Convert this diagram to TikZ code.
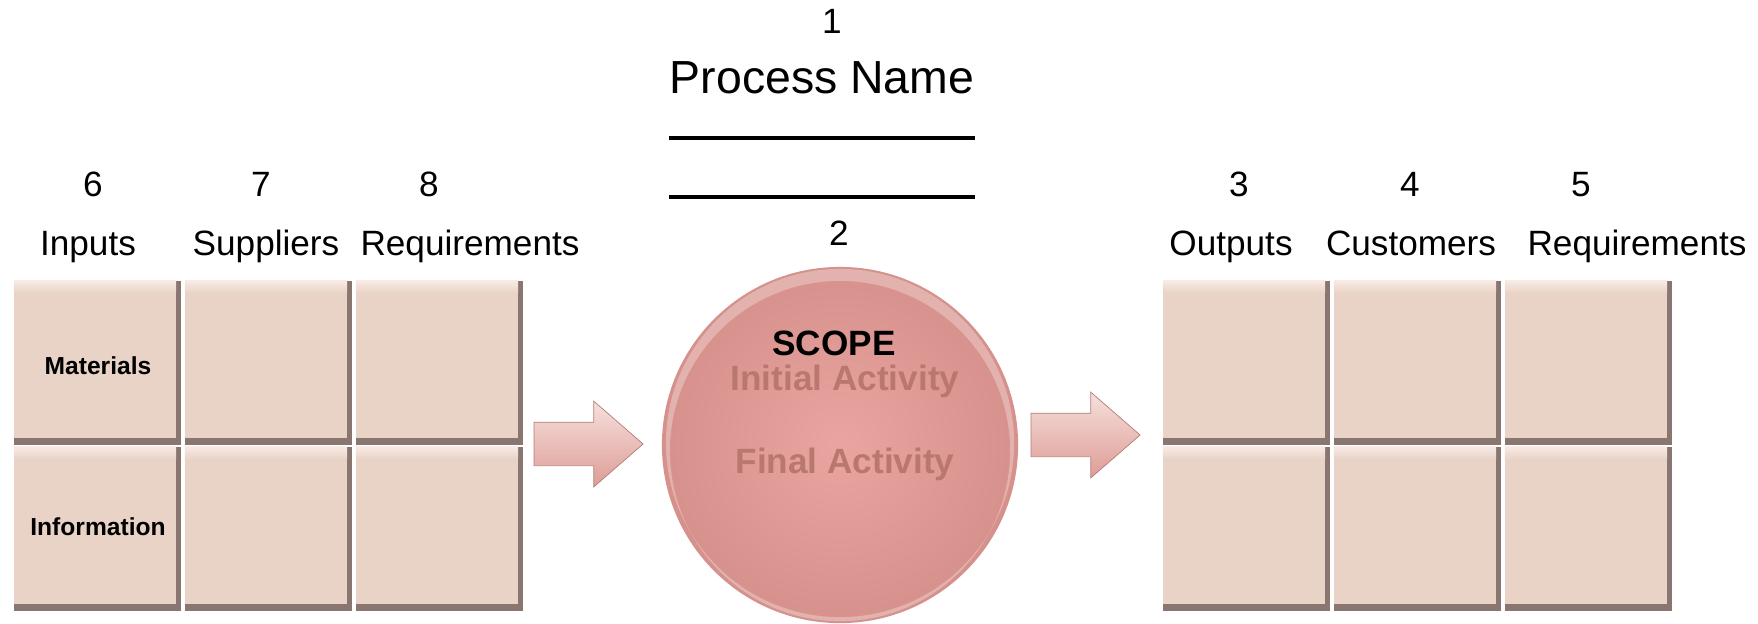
\documentclass[tikz,border=0pt]{standalone}
\usepackage{fontspec}
\setmainfont{Liberation Sans}
\usetikzlibrary{shapes.arrows}

\definecolor{cellfill}{HTML}{E9D3C7}
\definecolor{cellhigh}{HTML}{F7EAE4}
\definecolor{cellshade}{HTML}{8A7670}
\definecolor{scopein}{HTML}{EAA5A0}
\definecolor{scopeout}{HTML}{D6918C}
\definecolor{activity}{HTML}{B9786F}
\definecolor{arrowlight}{HTML}{F6E0DC}
\definecolor{arrowdark}{HTML}{DE9C96}

\tikzset{
    cell/.style={rectangle, inner sep=0, minimum width=1.67cm, minimum height=1.64cm,
        fill=cellshade,
        path picture={
            \fill[cellfill] (path picture bounding box.north west)
                rectangle ([xshift=-0.05cm,yshift=0.07cm]path picture bounding box.south east);
            \shade[top color=cellhigh, bottom color=cellfill] (path picture bounding box.north west)
                rectangle ([xshift=-0.05cm,yshift=-0.12cm]path picture bounding box.north east);
        }},
    rowlabel/.style={font=\bfseries\fontsize{7}{8}\selectfont, inner sep=0},
    head/.style={font=\fontsize{10}{12}\selectfont, inner sep=0, anchor=base},
    flow/.style={single arrow, inner xsep=0, inner ysep=0.215cm, minimum height=1.09cm,
        single arrow head extend=0.21cm, single arrow tip angle=82,
        top color=arrowlight, bottom color=arrowdark, draw=arrowdark!80!black, line width=0.2pt},
    activitytext/.style={font=\bfseries\fontsize{10}{12}\selectfont, text=activity, inner sep=0}
}

\begin{document}
\begin{tikzpicture}[x=0.01cm, y=-0.01cm]
    \def \colw {171}      % horizontal pitch of the cells
    \def \rowa {363}      % first row of cells
    \def \rowb {529}      % second row of cells
    \def \leftx {97.5}    % first column of the input grid
    \def \rightx {1246.5} % first column of the output grid
    \def \numy {196}      % baseline of the column numbers
    \def \heady {255}     % baseline of the column titles
    \useasboundingbox (0,0) rectangle (1758,623);
    % process name
    \node[head] (num1) at (832,33) {1};
    \node[font=\fontsize{13.2}{15}\selectfont, inner sep=0] (pname) at (822,78) {Process Name};
    \draw[line width=1.2pt] (669,138) -- (975,138);
    \draw[line width=1.2pt] (669,197) -- (975,197);
    \node[head] (num2) at (839,245) {2};
    % input grid
    \node[cell] (mat) at (\leftx,\rowa) {};
    \node[cell] (matsup) at (\leftx+\colw,\rowa) {};
    \node[cell] (matreq) at (\leftx+2*\colw,\rowa) {};
    \node[cell] (info) at (\leftx,\rowb) {};
    \node[cell] (infosup) at (\leftx+\colw,\rowb) {};
    \node[cell] (inforeq) at (\leftx+2*\colw,\rowb) {};
    \node[rowlabel] (matlabel) at (98,366) {Materials};
    \node[rowlabel] (infolabel) at (98,527) {Information};
    % input titles
    \node[head] (num6) at (93,\numy) {6};
    \node[head] (num7) at (261,\numy) {7};
    \node[head] (num8) at (429,\numy) {8};
    \node[head] (inputs) at (88,\heady) {Inputs};
    \node[head] (suppliers) at (266,\heady) {Suppliers};
    \node[head] (inreq) at (470,\heady) {Requirements};
    % scope
    \node[circle, minimum size=3.56cm, inner sep=0, inner color=scopein, outer color=scopeout,
        path picture={
            \fill[white, opacity=0.3, even odd rule] ([yshift=0.02cm]path picture bounding box.center) circle (1.74cm)
                ([yshift=-0.06cm]path picture bounding box.center) circle (1.70cm);
        }] (scope) at (840,445) {};
    \node[font=\bfseries\fontsize{10}{12}\selectfont, inner sep=0] (scopetitle) at (834,343) {SCOPE};
    \node[activitytext] (initial) at (845,381) {Initial Activity};
    \node[activitytext] (final) at (845,464) {Final Activity};
    % flow arrows
    \node[flow] (inflow) at (576,444) {};
    \node[flow] (outflow) at (1073,435) {};
    % output grid
    \node[cell] (out) at (\rightx,\rowa) {};
    \node[cell] (outcus) at (\rightx+\colw,\rowa) {};
    \node[cell] (outreq) at (\rightx+2*\colw,\rowa) {};
    \node[cell] (out2) at (\rightx,\rowb) {};
    \node[cell] (outcus2) at (\rightx+\colw,\rowb) {};
    \node[cell] (outreq2) at (\rightx+2*\colw,\rowb) {};
    % output titles
    \node[head] (num3) at (1239,\numy) {3};
    \node[head] (num4) at (1410,\numy) {4};
    \node[head] (num5) at (1581,\numy) {5};
    \node[head] (outputs) at (1231,\heady) {Outputs};
    \node[head] (customers) at (1411,\heady) {Customers};
    \node[head] (outreqlabel) at (1637,\heady) {Requirements};
\end{tikzpicture}
\end{document}
